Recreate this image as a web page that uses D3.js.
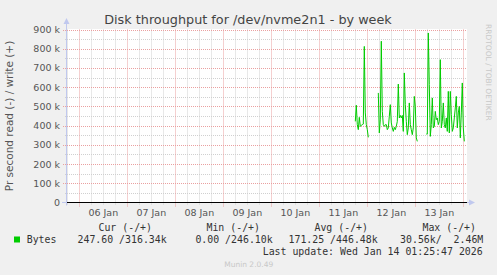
<!DOCTYPE html>
<html><head><meta charset="utf-8">
<script src="https://cdn.jsdelivr.net/npm/d3@7"></script>
<style>body{margin:0;background:#f0f0f0;} svg{display:block}</style>
</head><body>
<svg id="c" width="497" height="275"></svg>
<script>
const title = "Disk throughput for /dev/nvme2n1 - by week";
const yLabel = "Pr second read (-) / write (+)";
const yTicks = [0, 100000, 200000, 300000, 400000, 500000, 600000, 700000, 800000, 900000];
const yTickLabels = ["0", "100 k", "200 k", "300 k", "400 k", "500 k", "600 k", "700 k", "800 k", "900 k"];
const xDays = ["2026-01-06", "2026-01-07", "2026-01-08", "2026-01-09", "2026-01-10", "2026-01-11", "2026-01-12", "2026-01-13", "2026-01-14"];
const xDayLabels = ["06 Jan", "07 Jan", "08 Jan", "09 Jan", "10 Jan", "11 Jan", "12 Jan", "13 Jan"];
const viewStart = "2026-01-05T17:51";
const viewEnd = "2026-01-14T01:51";
const seriesStart = "2026-01-11T18:00";
const stepMinutes = 30;
// write bytes/s in k, null = no data
const writeK = [
  422,506,405,379,443,396,401,405,408,812,466,405,379,339,
  null,null,null,null,null,null,null,null,null,
  570,362,430,839,474,405,396,405,405,379,388,448,509,414,388,370,391,
  379,396,422,616,440,453,440,453,370,674,509,422,353,388,518,405,379,353,388,552,
  500,336,318,
  null,null,null,null,null,null,null,null,
  356,356,882,613,344,405,544,388,396,474,431,440,405,422,743,388,422,518,405,388,
  440,370,578,362,578,457,370,388,440,492,552,388,466,500,336,466,622,388,318
];
const legendHeaders = ["Cur (-/+)", "Min (-/+)", "Avg (-/+)", "Max (-/+)"];
const legendValues = ["247.60 /316.34k", "0.00 /246.10k", "171.25 /446.48k", "30.56k/  2.46M"];
const seriesName = "Bytes";
const lastUpdate = "Last update: Wed Jan 14 01:25:47 2026";
const footer = "Munin 2.0.49";
const sideText = "RRDTOOL / TOBI OETIKER";

const svg = d3.select("#c");
const parse = d3.timeParse("%Y-%m-%dT%H:%M");
const parseDay = d3.timeParse("%Y-%m-%d");
const L = 67, R = 467, T = 29.5, B = 202.5;
const x = d3.scaleTime().domain([parse(viewStart), parse(viewEnd)]).range([L, R]);
const y = d3.scaleLinear().domain([0, 900000]).range([B, T]);

svg.append("rect").attr("width", 497).attr("height", 275).attr("fill", "#f0f0f0");
svg.append("rect").attr("x", L).attr("y", T - 0.5).attr("width", R - L).attr("height", B - T + 0.5).attr("fill", "#fff");

const px = v => Math.round(v) + 0.5;
// minor vertical grid every 6h
const t0 = parse(viewStart), t1 = parse(viewEnd);
const sixH = d3.timeHour.every(6).range(t0, t1);
svg.append("g").selectAll("line").data(sixH.filter(d => d.getHours() !== 0)).join("line")
  .attr("x1", d => px(x(d))).attr("x2", d => px(x(d)))
  .attr("y1", T).attr("y2", B + 2)
  .attr("stroke", "#d0d0d0").attr("stroke-dasharray", "1,1");
// minor horizontal every 50k
const minorY = d3.range(50000, 900000, 100000);
svg.append("g").selectAll("line").data(minorY).join("line")
  .attr("x1", L - 2).attr("x2", R)
  .attr("y1", d => px(y(d))).attr("y2", d => px(y(d)))
  .attr("stroke", "#d0d0d0").attr("stroke-dasharray", "1,1");
// major vertical at midnight
svg.append("g").selectAll("line").data(xDays.map(parseDay)).join("line")
  .attr("x1", d => px(x(d))).attr("x2", d => px(x(d)))
  .attr("y1", T).attr("y2", B + 4)
  .attr("stroke", "#eaa0a0").attr("stroke-dasharray", "1,1");
// major horizontal
svg.append("g").selectAll("line").data(yTicks.slice(1)).join("line")
  .attr("x1", L - 4).attr("x2", R)
  .attr("y1", d => px(y(d))).attr("y2", d => px(y(d)))
  .attr("stroke", "#eaa0a0").attr("stroke-dasharray", "1,1");

// axes
const axCol = "#c0c8ee";
svg.append("line").attr("x1", 66.5).attr("x2", 66.5).attr("y1", B + 3).attr("y2", 22).attr("stroke", axCol);
svg.append("path").attr("d", "M63.5,24 L66.5,18 L69.5,24 Z").attr("fill", axCol);
svg.append("line").attr("x1", 62).attr("x2", 471).attr("y1", B).attr("y2", B).attr("stroke", axCol);
svg.append("path").attr("d", `M469,${B - 3} L475,${B} L469,${B + 3} Z`).attr("fill", axCol);

// data
const start = parse(seriesStart);
const data = writeK.map((v, i) => ({ t: d3.timeMinute.offset(start, i * stepMinutes), v: v == null ? null : v * 1000 }));
const line = d3.line().defined(d => d.v != null).x(d => x(d.t)).y(d => y(d.v));
svg.append("path").datum(data).attr("d", line).attr("fill", "none").attr("stroke", "#00cc00").attr("stroke-width", 1);

// zero rule
svg.append("line").attr("x1", L).attr("x2", R).attr("y1", B).attr("y2", B).attr("stroke", "#000").attr("stroke-width", 1);

// y labels
svg.append("g").selectAll("text").data(yTicks).join("text")
  .attr("x", 60).attr("y", d => y(d) + 3.5).attr("text-anchor", "end")
  .attr("font-family", "DejaVu Sans").attr("font-size", 9.5).attr("fill", "#555")
  .text((d, i) => yTickLabels[i]);
// x labels
svg.append("g").selectAll("text").data(xDayLabels).join("text")
  .attr("x", (d, i) => x(d3.timeHour.offset(parseDay(xDays[i]), 12)))
  .attr("y", 216).attr("text-anchor", "middle")
  .attr("font-family", "DejaVu Sans").attr("font-size", 9.5).attr("fill", "#555")
  .text(d => d);

// title
svg.append("text").attr("x", 248).attr("y", 24).attr("text-anchor", "middle")
  .attr("font-family", "DejaVu Sans").attr("font-size", 12.8).attr("fill", "#444").text(title);
// y axis label
svg.append("text").attr("transform", "translate(13,116) rotate(-90)").attr("text-anchor", "middle")
  .attr("font-family", "DejaVu Sans").attr("font-size", 10.5).attr("fill", "#555").text(yLabel);
// side text
svg.append("text").attr("transform", "translate(486,24) rotate(90)").attr("text-anchor", "start")
  .attr("font-family", "DejaVu Sans").attr("font-size", 7.5).attr("fill", "#c8c8c8").text(sideText);

// legend
const mono = "DejaVu Sans Mono";
const headerEnds = [152, 260, 368, 476];
const valueEnds = [166.7, 272.7, 377.7, 483.3];
svg.append("g").selectAll("text").data(legendHeaders).join("text")
  .attr("x", (d, i) => headerEnds[i]).attr("y", 231).attr("text-anchor", "end")
  .attr("font-family", mono).attr("font-size", 9.9).attr("fill", "#333")
  .style("white-space", "pre").text(d => d);
svg.append("rect").attr("x", 14).attr("y", 236.5).attr("width", 6).attr("height", 6).attr("fill", "#00cc00");
svg.append("text").attr("x", 26.7).attr("y", 243).attr("font-family", mono).attr("font-size", 9.9).attr("fill", "#333").text(seriesName);
svg.append("g").selectAll("text").data(legendValues).join("text")
  .attr("x", (d, i) => valueEnds[i]).attr("y", 243).attr("text-anchor", "end")
  .attr("font-family", mono).attr("font-size", 9.9).attr("fill", "#333")
  .style("white-space", "pre").text(d => d);
svg.append("text").attr("x", 482.7).attr("y", 254.5).attr("text-anchor", "end")
  .attr("font-family", mono).attr("font-size", 9.9).attr("fill", "#333").text(lastUpdate);
svg.append("text").attr("x", 248.7).attr("y", 267).attr("text-anchor", "middle")
  .attr("font-family", "DejaVu Sans").attr("font-size", 7.5).attr("fill", "#c8c8c8").text(footer);
</script>
</body></html>
